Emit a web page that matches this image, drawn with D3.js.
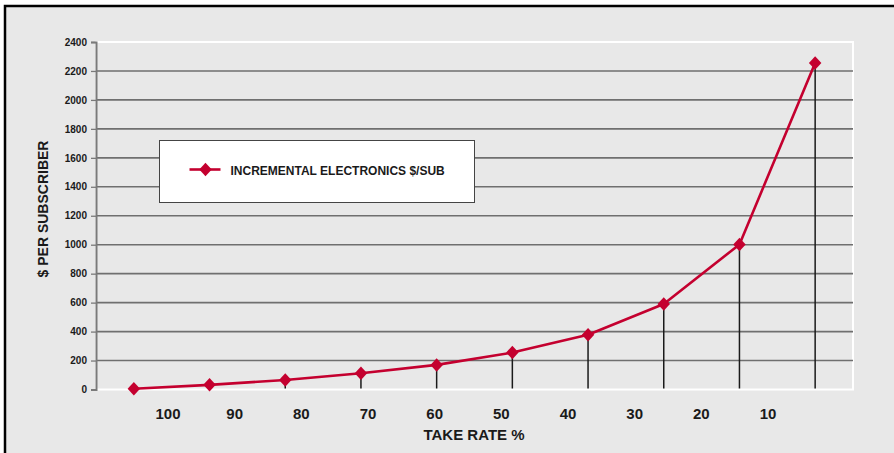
<!DOCTYPE html>
<html>
<head>
<meta charset="utf-8">
<script src="https://cdn.jsdelivr.net/npm/d3@7"></script>
<style>
  html, body { margin: 0; padding: 0; background: #ffffff; }
  svg { display: block; font-family: "Liberation Sans", Arial, sans-serif; }
</style>
</head>
<body>
<svg id="chart" width="894" height="453"></svg>
<script>
// Take-rate categories, left to right
const categories = ["100", "90", "80", "70", "60", "50", "40", "30", "20", "10"];
// Incremental electronics cost per subscriber ($) at each take rate
const costPerSub = [5, 32, 66, 112, 170, 255, 378, 590, 1002, 2255];
// Y-axis ticks
const yTicks = [0, 200, 400, 600, 800, 1000, 1200, 1400, 1600, 1800, 2000, 2200, 2400];
const seriesName = "INCREMENTAL ELECTRONICS $/SUB";

const W = 894, H = 453;
const plot = { left: 96, right: 853, top: 42, bottom: 389.5 };
const RED = "#c4002f";
const BG = "#e8e8e8";

const svg = d3.select("#chart");

// Frame: light grey panel with a heavy black edge on the top and left
svg.append("rect").attr("x", 0).attr("y", 0).attr("width", W).attr("height", H).attr("fill", "#ffffff");
svg.append("rect").attr("x", 5).attr("y", 6).attr("width", W + 10).attr("height", H + 10)
  .attr("fill", BG).attr("stroke", "#000").attr("stroke-width", 2.5);

const x = d3.scalePoint().domain(categories).range([plot.left, plot.right]).padding(0.5);
const xLabel = d3.scalePoint().domain(categories).range([plot.left + 72, plot.right - 85]);
const y = d3.scaleLinear().domain([0, 2400]).range([plot.bottom, plot.top]);

// Plot area with white border
svg.append("rect")
  .attr("x", plot.left).attr("y", plot.top)
  .attr("width", plot.right - plot.left).attr("height", plot.bottom - plot.top)
  .attr("fill", BG).attr("stroke", "#ffffff").attr("stroke-width", 2);

// Horizontal gridlines
svg.append("g").selectAll("line")
  .data(yTicks.filter(t => t > 0 && t < 2400))
  .join("line")
  .attr("x1", plot.left).attr("x2", plot.right)
  .attr("y1", d => y(d)).attr("y2", d => y(d))
  .attr("stroke", "#6f6f6f").attr("stroke-width", 1.6);

// Y axis
const yAxis = svg.append("g")
  .attr("transform", `translate(${plot.left},0)`)
  .call(d3.axisLeft(y).tickValues(yTicks).tickSize(5).tickPadding(4).tickFormat(d3.format("d")));
yAxis.select(".domain").attr("stroke", "#7a7a7a").attr("stroke-width", 2);
yAxis.selectAll(".tick line").attr("stroke", "#7a7a7a").attr("stroke-width", 1.3);
yAxis.selectAll(".tick text")
  .attr("fill", "#1a1a1a").attr("font-size", 10).attr("font-weight", "bold")
  .attr("font-family", "Liberation Sans, Arial, sans-serif");

// Drop lines from each point to the baseline
svg.append("g").selectAll("line")
  .data(categories.map((c, i) => ({ c, v: costPerSub[i] })))
  .join("line")
  .attr("x1", d => x(d.c)).attr("x2", d => x(d.c))
  .attr("y1", d => y(d.v)).attr("y2", plot.bottom - 1)
  .attr("stroke", "#1a1a1a").attr("stroke-width", 1.5);

// Series line
const pts = categories.map((c, i) => [x(c), y(costPerSub[i])]);
svg.append("path")
  .attr("d", d3.line()(pts))
  .attr("fill", "none").attr("stroke", RED).attr("stroke-width", 2.6)
  .attr("stroke-linejoin", "round");

// Diamond markers
const diamond = d3.symbol().type(d3.symbolSquare).size(78);
svg.append("g").selectAll("path")
  .data(pts)
  .join("path")
  .attr("d", diamond)
  .attr("transform", d => `translate(${d[0]},${d[1]}) scale(1,1.08) rotate(45)`)
  .attr("fill", RED);

// Category labels
svg.append("g").selectAll("text")
  .data(categories)
  .join("text")
  .attr("x", d => xLabel(d)).attr("y", 419)
  .attr("text-anchor", "middle")
  .attr("font-size", 15).attr("font-weight", "bold").attr("fill", "#1a1a1a")
  .text(d => d);

// Axis titles
svg.append("text")
  .attr("x", 474).attr("y", 440)
  .attr("text-anchor", "middle")
  .attr("font-size", 15).attr("font-weight", "bold").attr("fill", "#1a1a1a")
  .text("TAKE RATE %");

svg.append("text")
  .attr("transform", "translate(48,209) rotate(-90)")
  .attr("text-anchor", "middle")
  .attr("font-size", 14).attr("font-weight", "bold").attr("fill", "#1a1a1a")
  .text("$ PER SUBSCRIBER");

// Legend
const legend = svg.append("g").attr("transform", "translate(159.5,140.5)");
legend.append("rect").attr("width", 315).attr("height", 62)
  .attr("fill", "#ffffff").attr("stroke", "#444").attr("stroke-width", 1);
legend.append("line").attr("x1", 30).attr("x2", 61).attr("y1", 29).attr("y2", 29)
  .attr("stroke", RED).attr("stroke-width", 2.6);
legend.append("path").attr("d", diamond)
  .attr("transform", "translate(46,29) scale(1,1.08) rotate(45)").attr("fill", RED);
legend.append("text").attr("x", 71).attr("y", 34)
  .attr("font-size", 12).attr("font-weight", "bold").attr("fill", "#1a1a1a")
  .text(seriesName);
</script>
</body>
</html>
